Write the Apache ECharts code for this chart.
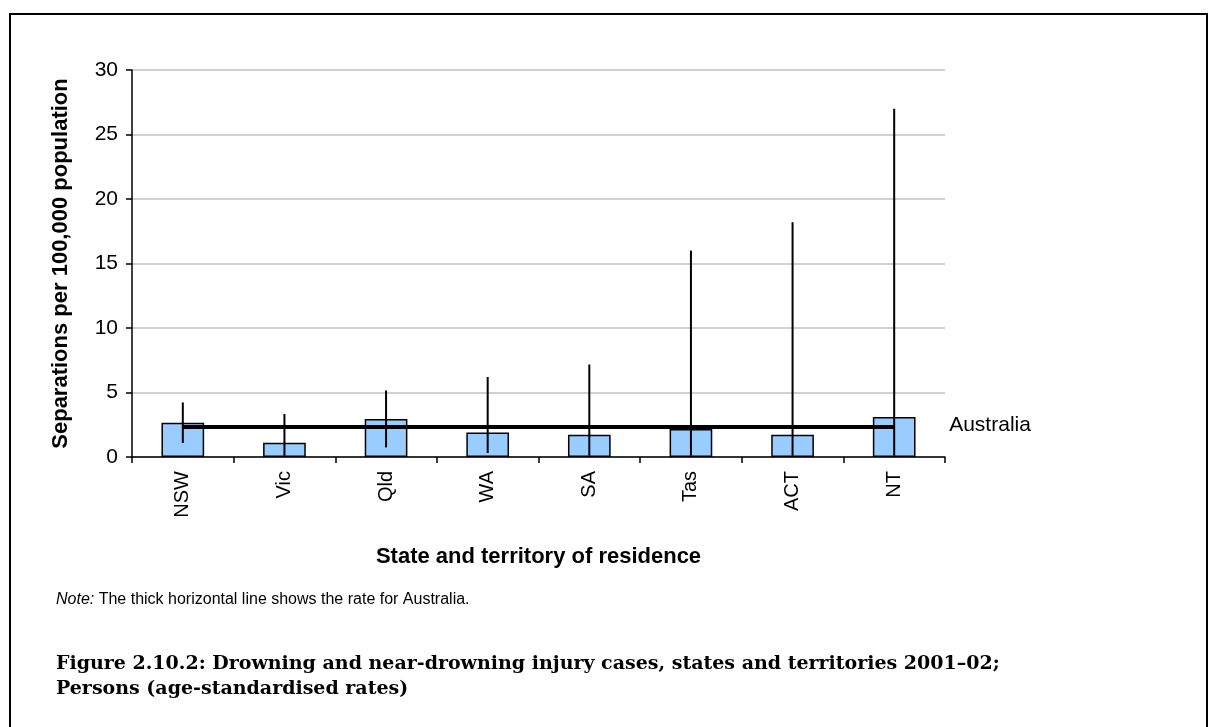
<!DOCTYPE html>
<html>
<head>
<meta charset="utf-8">
<script src="https://cdn.jsdelivr.net/npm/echarts@6/dist/echarts.min.js"></script>
<style>
  html, body { margin: 0; padding: 0; background: #fff; }
  #chart { width: 1219px; height: 727px; }
</style>
</head>
<body>
<div id="chart"></div>
<script>
// States and territories of residence
const states = ['NSW', 'Vic', 'Qld', 'WA', 'SA', 'Tas', 'ACT', 'NT'];
// Age-standardised separation rates per 100,000 population
const rates = [2.66, 1.11, 2.95, 1.90, 1.73, 2.17, 1.73, 3.10];
// 95% confidence interval bounds
const lowerCI = [1.09, 0.10, 0.74, 0.31, 0.10, 0.10, 0.10, 0.10];
const upperCI = [4.23, 3.33, 5.16, 6.20, 7.17, 16.0, 18.2, 27.0];
// Rate for Australia as a whole
const australiaRate = 2.33;
// Value axis ticks
const yTicks = [0, 5, 10, 15, 20, 25, 30];

const SANS = '"Liberation Sans", Arial, sans-serif';
const SERIF = '"DejaVu Serif", "Liberation Serif", serif';

const chart = echarts.init(document.getElementById('chart'), null, { renderer: 'canvas' });

const errorData = states.map((s, i) => [i, lowerCI[i], upperCI[i]]);

chart.setOption({
  animation: false,
  backgroundColor: '#ffffff',
  grid: { left: 132, right: 274, top: 70, bottom: 270, containLabel: false },
  xAxis: {
    type: 'category',
    data: states,
    name: 'State and territory of residence',
    nameLocation: 'middle',
    nameGap: 89,
    nameTextStyle: { fontFamily: SANS, fontWeight: 'bold', fontSize: 22, color: '#000' },
    axisLine: { lineStyle: { color: '#000', width: 1.5 } },
    axisTick: { show: true, length: 6, lineStyle: { color: '#000', width: 1.5 } },
    axisLabel: { rotate: 90, margin: 14, fontFamily: SANS, fontSize: 20, color: '#000' },
    splitLine: { show: false }
  },
  yAxis: {
    type: 'value',
    min: yTicks[0],
    max: yTicks[yTicks.length - 1],
    interval: yTicks[1] - yTicks[0],
    name: 'Separations per 100,000 population',
    nameLocation: 'middle',
    nameGap: 60,
    nameRotate: 90,
    nameTextStyle: { fontFamily: SANS, fontWeight: 'bold', fontSize: 22, color: '#000' },
    axisLine: { show: true, lineStyle: { color: '#000', width: 1.5 } },
    axisTick: { show: true, length: 6, lineStyle: { color: '#000', width: 1.5 } },
    axisLabel: { margin: 14, fontFamily: SANS, fontSize: 21, color: '#000' },
    splitLine: { show: true, lineStyle: { color: '#c0c0c0', width: 1.5 } }
  },
  series: [
    {
      name: 'Rate',
      type: 'bar',
      data: rates,
      barWidth: '42%',
      itemStyle: { color: '#99CCFF', borderColor: '#000', borderWidth: 1.5 },
      z: 2
    },
    {
      name: 'Australia',
      type: 'line',
      data: states.map(() => australiaRate),
      symbol: 'none',
      lineStyle: { color: '#000', width: 4 },
      endLabel: {
        show: true,
        formatter: 'Australia',
        distance: 55,
        fontFamily: SANS,
        fontSize: 21,
        color: '#000',
        offset: [0, -2]
      },
      z: 3
    },
    {
      name: 'CI',
      type: 'custom',
      data: errorData,
      renderItem: function (params, api) {
        const x = api.value(0);
        const lo = api.coord([x, api.value(1)]);
        const hi = api.coord([x, api.value(2)]);
        return {
          type: 'line',
          shape: { x1: lo[0], y1: lo[1], x2: hi[0], y2: hi[1] },
          style: { stroke: '#000', lineWidth: 2 }
        };
      },
      z: 4
    }
  ],
  graphic: [
    {
      type: 'rect',
      shape: { x: 10, y: 14, width: 1197, height: 740 },
      style: { fill: 'none', stroke: '#000', lineWidth: 2 },
      silent: true
    },
    {
      type: 'text',
      left: 56,
      top: 592,
      style: {
        text: '{i|Note:} The thick horizontal line shows the rate for Australia.',
        rich: {
          i: { fontFamily: SANS, fontStyle: 'italic', fontSize: 16, fill: '#000' }
        },
        fontFamily: SANS,
        fontSize: 16,
        fill: '#000'
      }
    },
    {
      type: 'text',
      left: 56,
      top: 652,
      style: {
        text: 'Figure 2.10.2: Drowning and near-drowning injury cases, states and territories 2001\u201302;\nPersons (age-standardised rates)',
        fontFamily: SERIF,
        fontWeight: 'bold',
        fontSize: 19,
        lineHeight: 25,
        fill: '#000'
      }
    }
  ]
});
</script>
</body>
</html>
